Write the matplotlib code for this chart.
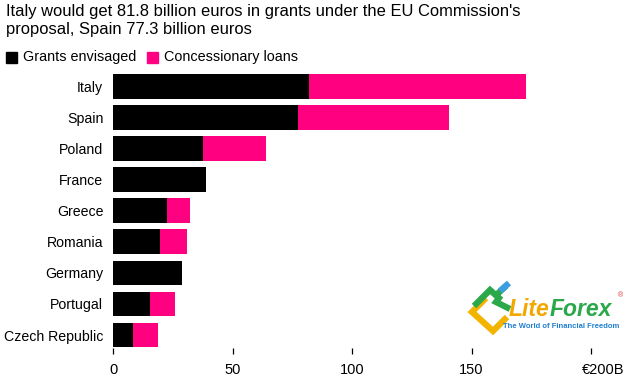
import matplotlib
matplotlib.use("Agg")
import matplotlib.pyplot as plt
from matplotlib.lines import Line2D
from matplotlib.patches import Rectangle
import matplotlib.transforms as mtransforms

countries = ["Italy", "Spain", "Poland", "France", "Greece", "Romania",
             "Germany", "Portugal", "Czech Republic"]
grants = [81.8, 77.3, 37.7, 38.8, 22.5, 19.5, 28.7, 15.3, 8.4]
loans = [90.9, 63.1, 26.2, 0.0, 9.6, 11.6, 0.0, 10.7, 10.5]
xticks = [0, 50, 100, 150, 200]
xticklabels = ["0", "50", "100", "150", "€200B"]

plt.rcParams['font.family'] = ['Liberation Sans', 'DejaVu Sans']

W, H = 630, 379
fig = plt.figure(figsize=(6.3, 3.79), dpi=100)

def fx(px):
    return px / W

def fy(py):
    return 1 - py / H

ax_left, ax_right = 113, 591
ax_top, ax_bot = 67.6, 347.5
ax = fig.add_axes([fx(ax_left), fy(ax_bot), fx(ax_right - ax_left), (ax_bot - ax_top) / H])

ypos = list(range(len(countries)))
ax.barh(ypos, grants, height=0.79, color="#000000", label="Grants envisaged")
ax.barh(ypos, loans, left=grants, height=0.79, color="#ff0080", label="Concessionary loans")

ax.set_xlim(0, 200)
ax.set_ylim(8.40, -0.6)
ax.set_yticks(ypos)
ax.set_yticklabels(countries, fontsize=10.2)
ax.set_xticks(xticks)
ax.set_xticklabels(xticklabels, fontsize=10.5)
for s in ax.spines.values():
    s.set_visible(False)
ax.tick_params(axis='y', length=0, pad=7)
ax.tick_params(axis='x', length=4, width=0.9, direction='out', pad=7, color="#000000")
lbl = ax.get_xticklabels()[-1]
lbl.set_transform(lbl.get_transform() + mtransforms.ScaledTranslation(12 / 100, 0, fig.dpi_scale_trans))

# Title
fig.text(fx(6), fy(4), "Italy would get 81.8 billion euros in grants under the EU Commission's\nproposal, Spain 77.3 billion euros",
         fontsize=11.9, va='top', ha='left', linespacing=1.28, color="#000000")

# Legend
fig.patches.append(Rectangle((fx(6), fy(63)), fx(11), 11 / H, transform=fig.transFigure, color="#000000"))
fig.text(fx(23), fy(57.5), "Grants envisaged", fontsize=10.4, va='center', ha='left')
fig.patches.append(Rectangle((fx(147), fy(63)), fx(11), 11 / H, transform=fig.transFigure, color="#ff0080"))
fig.text(fx(164), fy(57.5), "Concessionary loans", fontsize=10.4, va='center', ha='left')

# LiteForex watermark
def fl(xs, ys, c, lw):
    fig.add_artist(Line2D([fx(x) for x in xs], [fy(y) for y in ys], color=c, lw=lw,
                          transform=fig.transFigure, solid_capstyle='butt', solid_joinstyle='miter'))

fl([486, 472, 493, 507], [298, 312, 331, 317], "#f3b400", 4.5)
fl([474, 490, 499, 496, 510], [306, 290, 298, 302, 309], "#2aa84a", 4.5)
fl([494, 506], [297, 286], "#2aa84a", 4.5)
fl([500, 509], [291, 283], "#3b9ee0", 4.5)
fig.text(fx(509), fy(309), "Lite", fontsize=16.5, fontweight='bold', style='italic',
         color="#f3a800", va='center', ha='left')
fig.text(fx(550), fy(309), "Forex", fontsize=16.5, fontweight='bold', style='italic',
         color="#2aa84a", va='center', ha='left')
fig.text(fx(621), fy(296), "®", fontsize=5, color="#e03030", va='center', ha='center')
fig.text(fx(503), fy(326), "The World of Financial Freedom", fontsize=5.5, fontweight='bold',
         color="#1f7fd0", va='center', ha='left')

fig.savefig("out.png", dpi=100)
